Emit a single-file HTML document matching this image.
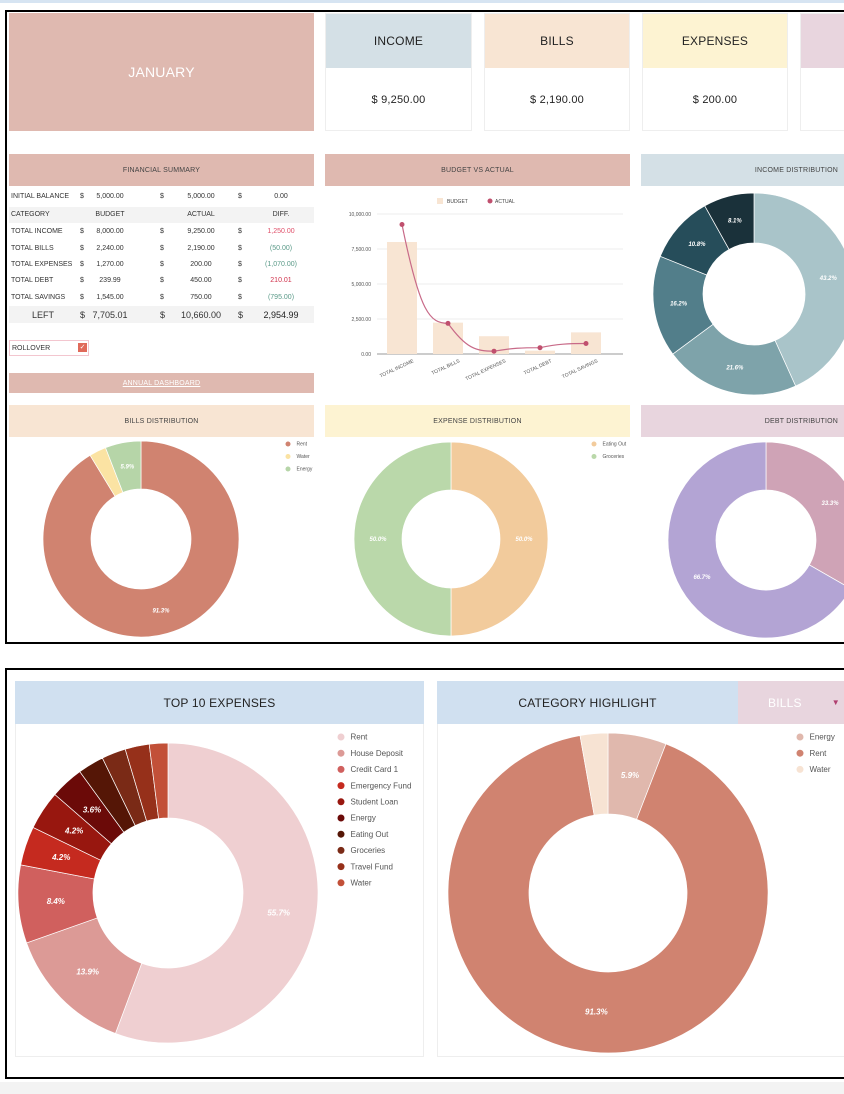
<!DOCTYPE html>
<html><head><meta charset="utf-8"><style>
body{margin:0;width:844px;height:1094px;background:#fff;position:relative;overflow:hidden;font-family:"Liberation Sans",sans-serif;color:#333}
.a{position:absolute;box-sizing:border-box}
.hd{display:flex;align-items:center;justify-content:center;font-size:7px;color:#444;letter-spacing:.2px}
.c{position:absolute;font-size:7px;color:#333;white-space:nowrap}
</style></head><body>
<div class="a" style="left:0;top:0;width:844px;height:3px;background:#d6e4f2"></div>
<div class="a" style="left:5px;top:10px;width:845px;height:634px;border:2px solid #000"></div>
<div class="a" style="left:5px;top:668px;width:845px;height:411px;border:2px solid #000"></div>
<div class="a" style="left:0;top:1082px;width:844px;height:12px;background:#f3f3f3"></div>

<div class="a hd" style="left:9px;top:13px;width:305px;height:118px;background:#dfb9b0;color:#fff;font-size:14px">JANUARY</div>

<div class="a" style="left:325px;top:13px;width:147px;height:118px;border:1px solid #eee"><div class="a hd" style="left:0;top:0;width:100%;height:54px;background:#d4e0e6;font-size:12px;color:#222">INCOME</div><div class="a hd" style="left:0;top:74px;width:100%;height:24px;font-size:11px;color:#222">$ 9,250.00</div></div>
<div class="a" style="left:484px;top:13px;width:146px;height:118px;border:1px solid #eee"><div class="a hd" style="left:0;top:0;width:100%;height:54px;background:#f8e5d3;font-size:12px;color:#222">BILLS</div><div class="a hd" style="left:0;top:74px;width:100%;height:24px;font-size:11px;color:#222">$ 2,190.00</div></div>
<div class="a" style="left:642px;top:13px;width:146px;height:118px;border:1px solid #eee"><div class="a hd" style="left:0;top:0;width:100%;height:54px;background:#fdf3d2;font-size:12px;color:#222">EXPENSES</div><div class="a hd" style="left:0;top:74px;width:100%;height:24px;font-size:11px;color:#222">$ 200.00</div></div>
<div class="a" style="left:800px;top:13px;width:50px;height:118px;border:1px solid #eee"><div class="a" style="left:0;top:0;width:100%;height:54px;background:#e8d5de"></div></div>

<div class="a hd" style="left:9px;top:154px;width:305px;height:32px;background:#dfb9b0">FINANCIAL SUMMARY</div>
<div class="a hd" style="left:325px;top:154px;width:305px;height:32px;background:#dfb9b0">BUDGET VS ACTUAL</div>
<div class="a hd" style="left:641px;top:154px;width:209px;height:32px;background:#d4e0e6;justify-content:flex-end;padding-right:12px">INCOME DISTRIBUTION</div>
<div class="a hd" style="left:9px;top:405px;width:305px;height:32px;background:#f8e5d3">BILLS DISTRIBUTION</div>
<div class="a hd" style="left:325px;top:405px;width:305px;height:32px;background:#fdf3d2">EXPENSE DISTRIBUTION</div>
<div class="a hd" style="left:641px;top:405px;width:209px;height:32px;background:#e8d5de;justify-content:flex-end;padding-right:12px">DEBT DISTRIBUTION</div>

<div class="a" style="left:9px;top:207px;width:305px;height:16px;background:#f3f3f3"></div>
<div class="a" style="left:9px;top:306px;width:305px;height:17px;background:#f3f3f3"></div>
<div id="tbl"></div>

<div class="a" style="left:9px;top:340px;width:80px;height:16px;border:1px solid #f3c6cf;font-size:7px;padding:4px 2px">ROLLOVER</div>
<div class="a" style="left:78px;top:343px;width:9px;height:9px;background:#e06a5a;color:#fff;font-size:7px;line-height:9px;text-align:center">✓</div>
<div class="a hd" style="left:9px;top:373px;width:305px;height:20px;background:#dfb9b0;color:#fff;text-decoration:underline">ANNUAL DASHBOARD</div>

<svg class="a" id="bar" style="left:325px;top:188px" width="305" height="210"></svg>
<svg class="a" id="donuts" style="left:0;top:0" width="844" height="1094"></svg>

<div class="a" style="left:15px;top:681px;width:409px;height:376px;border:1px solid #eee"></div>
<div class="a hd" style="left:15px;top:681px;width:409px;height:43px;background:#d0e0f0;font-size:12px;color:#222">TOP 10 EXPENSES</div>
<div class="a" style="left:437px;top:681px;width:420px;height:376px;border:1px solid #eee"></div>
<div class="a hd" style="left:437px;top:681px;width:301px;height:43px;background:#d0e0f0;font-size:12px;color:#222">CATEGORY HIGHLIGHT</div>
<div class="a hd" style="left:738px;top:681px;width:110px;height:43px;background:#e8d5de;color:#fff;font-size:12px;justify-content:flex-start;padding-left:30px">BILLS <span style="color:#b04070;margin-left:30px;font-size:8px">▼</span></div>

<script>
const NS='http://www.w3.org/2000/svg';
function mk(p,t,at){const e=document.createElementNS(NS,t);for(const k in at)e.setAttribute(k,at[k]);p.appendChild(e);return e;}
const rowLabels=['INITIAL BALANCE','CATEGORY','TOTAL INCOME','TOTAL BILLS','TOTAL EXPENSES','TOTAL DEBT','TOTAL SAVINGS','LEFT'];
const budgetVals=['5,000.00','BUDGET','8,000.00','2,240.00','1,270.00','239.99','1,545.00','7,705.01'];
const actualVals=['5,000.00','ACTUAL','9,250.00','2,190.00','200.00','450.00','750.00','10,660.00'];
const diffVals=['0.00','DIFF.','1,250.00','(50.00)','(1,070.00)','210.01','(795.00)','2,954.99'];
const diffColors=['#333','#333','#e0506a','#5a9a88','#5a9a88','#d0304a','#5a9a88','#222'];
const rowY=[197,215,232,249,265,281,298,315];
const tbl=document.getElementById('tbl');
rowLabels.forEach((l,i)=>{
 const big=i===7, f=big?'9px':'7px';
 const add=(txt,x,al,col,nm)=>{const d=document.createElement('div');d.className='c';d.textContent=txt;d.style.top=(rowY[i]-(big?5:4))+'px';d.style.fontSize=f;d.style.color=col||'#333';
  if(al==='c'){d.style.left=(x-40)+'px';d.style.width='80px';d.style.textAlign='center';}else d.style.left=x+'px';
  
  
  tbl.appendChild(d);};
 add(l,big?32:11,'l','#333','row-label');
 if(i!==1){add('$',80,'l','#333','currency');add('$',160,'l','#333','currency');add('$',238,'l','#333','currency');}
 add(budgetVals[i],110,'c','#333','budget-value');
 add(actualVals[i],201,'c','#333','actual-value');
 add(diffVals[i],281,'c',diffColors[i],'diff-value');
});
const categories=['TOTAL INCOME','TOTAL BILLS','TOTAL EXPENSES','TOTAL DEBT','TOTAL SAVINGS'];
const budget=[8000,2240,1270,239.99,1545];
const actual=[9250,2190,200,450,750];
const yTicks=[0,2500,5000,7500,10000];
const yTickLabels=['0.00','2,500.00','5,000.00','7,500.00','10,000.00'];
const bar=document.getElementById('bar');
const y=v=>166-v/10000*140, x=i=>77+i*46;
yTicks.forEach((t,i)=>{mk(bar,'line',{x1:52,x2:298,y1:y(t),y2:y(t),stroke:i?'#eee':'#999','stroke-width':1});
 const tx=mk(bar,'text',{x:46,y:y(t)+2,'text-anchor':'end','font-size':5,fill:'#555'});tx.textContent=yTickLabels[i];
 
 });
budget.forEach((v,i)=>{const r=mk(bar,'rect',{x:x(i)-15,y:y(v),width:30,height:y(0)-y(v),fill:'#f8e5d3'});
 
 });
let d='';actual.forEach((v,i)=>{const px=x(i),py=y(v);if(!i)d='M'+px+','+py;else{const qx=x(i-1),qy=y(actual[i-1]);d+=` C${qx+18},${py-(py-qy)*0.1} ${px-18},${py} ${px},${py}`;}});
const ln=mk(bar,'path',{d:d,fill:'none',stroke:'#c86a88','stroke-width':1.2});


actual.forEach((v,i)=>{const c=mk(bar,'circle',{cx:x(i),cy:y(v),r:2.5,fill:'#c0506e'});
 
 });
categories.forEach((c,i)=>{const t=mk(bar,'text',{x:x(i)+12,y:174,'text-anchor':'end','font-size':5,fill:'#555',transform:`rotate(-25 ${x(i)+12} 174)`});t.textContent=c;
 
 });
mk(bar,'rect',{x:112,y:10,width:6,height:6,fill:'#f8e5d3'});
const lb=mk(bar,'text',{x:122,y:15,'font-size':5,fill:'#444'});lb.textContent='BUDGET';
mk(bar,'circle',{cx:165,cy:13,r:2.5,fill:'#c0506e'});
const la=mk(bar,'text',{x:170,y:15,'font-size':5,fill:'#444'});la.textContent='ACTUAL';
const incomeVals=[43.2,21.6,16.2,10.8,8.1];
const billsLabels=['Rent','Water','Energy'];
const billsVals=[91.3,2.8,5.9];
const expenseLabels=['Eating Out','Groceries'];
const expenseVals=[50,50];
const debtVals=[33.3,66.7];
const topLabels=['Rent','House Deposit','Credit Card 1','Emergency Fund','Student Loan','Energy','Eating Out','Groceries','Travel Fund','Water'];
const topVals=[55.7,13.9,8.4,4.2,4.2,3.6,2.8,2.6,2.6,2.0];
const catLabels=['Energy','Rent','Water'];
const catVals=[5.9,91.3,2.8];
const D=document.getElementById('donuts');
function donut(name,cx,cy,R,r,vals,cols,fs,minLbl){
 const g=mk(D,'g',{});
 
 
 const tot=vals.reduce((a,b)=>a+b,0);let a0=0;
 vals.forEach((v,i)=>{const a1=a0+v/tot*Math.PI*2;
  const p=(a,rr)=>[cx+rr*Math.sin(a),cy-rr*Math.cos(a)];
  const [x1,y1]=p(a0,R),[x2,y2]=p(a1,R),[x3,y3]=p(a1,r),[x4,y4]=p(a0,r);const lg=a1-a0>Math.PI?1:0;
  const s=mk(g,'path',{d:`M${x1},${y1}A${R},${R} 0 ${lg} 1 ${x2},${y2}L${x3},${y3}A${r},${r} 0 ${lg} 0 ${x4},${y4}Z`,fill:cols[i],stroke:'#fff','stroke-width':0.7});
  
  
  const pct=v/tot*100;
  if(pct>=minLbl){const [lx,ly]=p((a0+a1)/2,(R+r)/2);const t=mk(g,'text',{x:lx,y:ly+fs/3,'text-anchor':'middle','font-size':fs,'font-weight':'bold','font-style':'italic',fill:'#fff'});t.textContent=pct.toFixed(1)+'%';
   
   }
  a0=a1;});
}
function legend(x,y0,labels,cols,step,fs,r){labels.forEach((l,i)=>{mk(D,'circle',{cx:x,cy:y0+i*step,r:r,fill:cols[i]});const t=mk(D,'text',{x:x+r+6,y:y0+i*step+fs/3,'font-size':fs,fill:'#555'});t.textContent=l;
 
 });}
donut('income-donut',754,294,101,51,incomeVals,['#a9c4c9','#7ea3aa','#527e8a','#264d5a','#1a313a'],6,5);
const billCols=['#d08370','#fbe3a3','#b6d5a8'];
donut('bills-donut',141,539,98,50,billsVals,billCols,6,5);
legend(288,444,billsLabels,billCols,12.5,5,2.5);
const expCols=['#f2cb9c','#bad8aa'];
donut('expense-donut',451,539,97,49,expenseVals,expCols,6,5);
legend(594,444,expenseLabels,expCols,12.5,5,2.5);
donut('debt-donut',766,540,98,50,debtVals,['#cfa3b6','#b3a4d4'],6,5);
const topCols=['#efcfd1','#dc9a96','#d0605e','#c52a1f','#98170f','#6b0a08','#551606','#7a2a16','#96301a','#c25038'];
donut('top-expenses-donut',168,893,150,75,topVals,topCols,8,3);
legend(341,737,topLabels,topCols,16.2,8,3.5);
const catCols=['#e0b8ad','#d08370','#f7e3d3'];
donut('category-donut',608,893,160,79,catVals,catCols,8,5);
legend(800,737,catLabels,catCols,16.2,8,3.5);
</script>
</body></html>
